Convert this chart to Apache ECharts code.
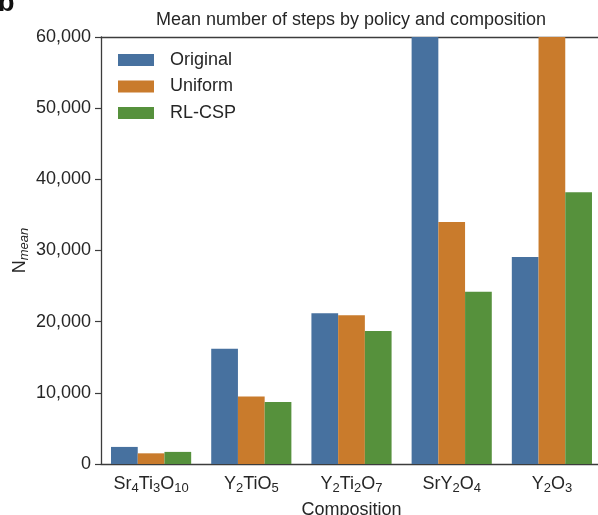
<!DOCTYPE html>
<html>
<head>
<meta charset="utf-8">
<script src="https://cdn.jsdelivr.net/npm/echarts@6/dist/echarts.min.js"></script>
<style>
  html, body { margin: 0; padding: 0; background: #fff; }
  #chart { width: 598px; height: 515px; }
</style>
</head>
<body>
<div id="chart"></div>
<script>
// data (bars touching the top are clipped at 60,000)
const compositions = ['Sr4Ti3O10', 'Y2TiO5', 'Y2Ti2O7', 'SrY2O4', 'Y2O3']
const original = [2400, 16200, 21200, 60000, 29100]
const uniform = [1500, 9500, 20900, 34000, 60000]
const rlcsp = [1700, 8700, 18700, 24200, 38200]
const yTicks = [0, 10000, 20000, 30000, 40000, 50000, 60000]

const font = 'Liberation Sans'
const ink = '#262626'
const axisColor = '#3c3c3c'

// digits become subscripts
const chem = s => s.replace( /(\d+)/g, '{s|$1}' )

const chart = echarts.init( document.getElementById( 'chart' ) )
chart.setOption( {
  animation : false,
  textStyle : { fontFamily : font },
  title : {
    text : 'Mean number of steps by policy and composition',
    left : 351,
    textAlign : 'center',
    top : 11,
    padding : 0,
    textStyle : { fontSize : 18, fontWeight : 'normal', color : ink, fontFamily : font }
  },
  graphic : [
    {
      type : 'text',
      x : -2,
      y : 17,
      style : { text : 'b', font : 'bold 27px "Liberation Sans"', fill : '#111', verticalAlign : 'bottom' }
    }
  ],
  legend : {
    orient : 'vertical',
    left : 118,
    top : 51,
    padding : 0,
    itemWidth : 36,
    itemHeight : 12,
    itemGap : 8.5,
    icon : 'rect',
    textStyle : { fontSize : 18, lineHeight : 18, color : ink, padding : [0, 0, 0, 11], fontFamily : font }
  },
  grid : {
    left : 101,
    right : -4,
    top : 37,
    bottom : 51,
    containLabel : false,
    outerBoundsMode : 'none'
  },
  xAxis : [
    {
      type : 'category',
      data : compositions,
      name : 'Composition',
      nameLocation : 'middle',
      nameGap : 37,
      nameMoveOverlap : false,
      nameTextStyle : { fontSize : 18, color : ink, verticalAlign : 'top' },
      axisLine : { lineStyle : { color : axisColor, width : 1.3 } },
      axisTick : { alignWithLabel : true, length : 6, lineStyle : { color : axisColor, width : 1.2 } },
      axisLabel : {
        interval : 0,
        margin : 9,
        fontSize : 18,
        lineHeight : 22,
        color : ink,
        formatter : v => chem( v ),
        rich : { s : { fontSize : 13, lineHeight : 12, verticalAlign : 'bottom', color : ink } }
      }
    },
    {
      type : 'category',
      data : compositions,
      position : 'top',
      axisLine : { show : true, lineStyle : { color : axisColor, width : 1.3 } },
      axisTick : { show : false },
      axisLabel : { show : false }
    }
  ],
  yAxis : {
    type : 'value',
    min : yTicks[0],
    max : yTicks[yTicks.length - 1],
    interval : yTicks[1] - yTicks[0],
    name : 'N{m|mean}',
    nameLocation : 'middle',
    nameGap : 70,
    nameMoveOverlap : false,
    nameTextStyle : {
      fontSize : 18,
      lineHeight : 22,
      color : ink,
      rich : { m : { fontSize : 13, lineHeight : 12, fontStyle : 'italic', verticalAlign : 'bottom', color : ink } }
    },
    splitLine : { show : false },
    axisLine : { show : true, lineStyle : { color : axisColor, width : 1.3 } },
    axisTick : { show : true, length : 6, lineStyle : { color : axisColor, width : 1.2 } },
    axisLabel : {
      margin : 10,
      fontSize : 18,
      color : ink,
      formatter : v => v.toLocaleString( 'en-US' )
    }
  },
  series : [
    { name : 'Original', type : 'bar', data : original, barGap : '0%', barCategoryGap : '20%', itemStyle : { color : '#47719f' } },
    { name : 'Uniform', type : 'bar', data : uniform, itemStyle : { color : '#c97b2c' } },
    { name : 'RL-CSP', type : 'bar', data : rlcsp, itemStyle : { color : '#56913c' } }
  ]
} )
</script>
</body>
</html>
